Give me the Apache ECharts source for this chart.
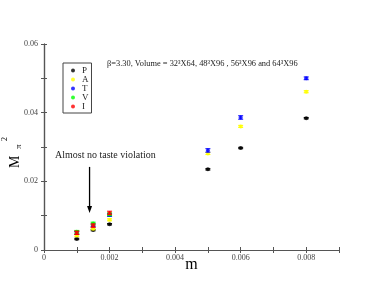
<!DOCTYPE html>
<html><head><meta charset="utf-8">
<script src="https://cdn.jsdelivr.net/npm/echarts@6/dist/echarts.min.js"></script>
<style>html,body{margin:0;padding:0;background:#fff}#c{width:382px;height:295px}</style>
</head><body><div id="c"></div>
<script>
var seriesNames = ['P','A','T','V','I'];
var seriesColors = ['#000000','#ffff00','#0000ff','#00ff00','#ff0000'];
var massP = [0.001,0.0015,0.002,0.005,0.006,0.008];
var valP = [0.0032,0.0058,0.0075,0.0235,0.0297,0.0384];
var errP = [0.0002,0.0002,0.0002,0.0002,0.0002,0.0002];
var massA = [0.001,0.0015,0.002,0.005,0.006,0.008];
var valA = [0.0042,0.0062,0.0088,0.0281,0.0360,0.0461];
var errA = [0.0003,0.0003,0.0003,0.0003,0.0003,0.0003];
var massT = [0.001,0.0015,0.002,0.005,0.006,0.008];
var valT = [0.0050,0.0072,0.0102,0.0290,0.0386,0.0500];
var errT = [0.0004,0.0004,0.0004,0.0005,0.0005,0.0004];
var massV = [0.001,0.0015,0.002];
var valV = [0.0053,0.0077,0.0104];
var errV = [0.0004,0.0004,0.0004];
var massI = [0.001,0.0015,0.002];
var valI = [0.0050,0.0071,0.0108];
var errI = [0.0005,0.0005,0.0005];
var xTicks = [0,0.002,0.004,0.006,0.008];
var yTicks = [0,0.02,0.04,0.06];
var arrowFrom = [0.00139,0.0242];
var arrowTo = [0.00139,0.0108];

var allM = [massP,massA,massT,massV,massI];
var allV = [valP,valA,valT,valV,valI];
var allE = [errP,errA,errT,errV,errI];
var serif = 'Liberation Serif, DejaVu Serif, serif';

var series = [];
for (var i=0;i<5;i++){
  (function(i){
    var pts = allM[i].map(function(m,k){return [m, allV[i][k]];});
    var eb = allM[i].map(function(m,k){return [m, allV[i][k]-allE[i][k], allV[i][k]+allE[i][k]];});
    series.push({
      type:'custom', name: seriesNames[i]+'_err', silent:true, z:2+i*2,
      data: eb,
      renderItem: function(params, api){
        var x = api.value(0);
        var lo = api.coord([x, api.value(1)]);
        var hi = api.coord([x, api.value(2)]);
        var c = seriesColors[i];
        var w = 2.5;
        return {type:'group', children:[
          {type:'line', shape:{x1:lo[0],y1:lo[1],x2:hi[0],y2:hi[1]}, style:{stroke:c,lineWidth:1}},
          {type:'line', shape:{x1:lo[0]-w,y1:lo[1],x2:lo[0]+w,y2:lo[1]}, style:{stroke:c,lineWidth:1}},
          {type:'line', shape:{x1:hi[0]-w,y1:hi[1],x2:hi[0]+w,y2:hi[1]}, style:{stroke:c,lineWidth:1}}
        ]};
      }
    });
    series.push({
      type:'scatter', name: seriesNames[i], z:3+i*2, symbol:'circle', symbolSize:4,
      itemStyle:{color:seriesColors[i]}, data: pts
    });
  })(i);
}
series.push({
  type:'custom', silent:true, z:20,
  data:[[arrowFrom[0],arrowFrom[1],arrowTo[0],arrowTo[1]]],
  renderItem:function(params, api){
    var a = api.coord([api.value(0), api.value(1)]);
    var b = api.coord([api.value(2), api.value(3)]);
    var h = 7, w = 2.5;
    return {type:'group', children:[
      {type:'line', shape:{x1:a[0],y1:a[1],x2:b[0],y2:b[1]-h+1}, style:{stroke:'#000',lineWidth:1.3}},
      {type:'polygon', shape:{points:[[b[0]-w,b[1]-h],[b[0]+w,b[1]-h],[b[0],b[1]]]}, style:{fill:'#000'}}
    ]};
  }
});

var chart = echarts.init(document.getElementById('c'));
function ax(extra){
  return Object.assign({
    type:'value',
    axisLine:{lineStyle:{color:'#555',width:1.2}},
    axisTick:{inside:true,length:3,lineStyle:{color:'#555'}},
    splitLine:{show:false}
  }, extra);
}
chart.setOption({
  animation:false,
  backgroundColor:'#fff',
  title:{text:'β=3.30, Volume = 32³X64, 48³X96 , 56³X96 and 64³X96', left:107, top:60, padding:0,
    textStyle:{fontFamily:serif,fontSize:8.4,fontWeight:'normal',color:'#222'}},
  legend:{data:seriesNames, orient:'vertical', left:63, top:63, itemWidth:4, itemHeight:4, itemGap:0,
    icon:'circle', padding:[3,3,2,8], borderColor:'#444', borderWidth:1,
    textStyle:{fontFamily:serif,fontSize:9,lineHeight:8.3,color:'#222',padding:[0,0,0,2]}},
  grid:{left:44,right:43,top:44,bottom:45},
  xAxis:[
    ax({min:0,max:0.009,interval:0.001,position:'bottom',
      name:'m',nameLocation:'middle',nameGap:7,nameMoveOverlap:false,
      nameTextStyle:{fontFamily:serif,fontSize:16,color:'#000'},
      axisLabel:{fontFamily:serif,fontSize:8,color:'#444',margin:4,
        formatter:function(v){var r=Math.round(v*10000)/10000; if(xTicks.indexOf(r)<0) return ''; return r===0?'0':r.toFixed(3);}}}),
    ax({min:0,max:0.009,interval:0.001,position:'top',axisLabel:{show:false}})
  ],
  yAxis:[
    ax({min:0,max:0.06,interval:0.01,position:'left',
      axisLabel:{fontFamily:serif,fontSize:8,color:'#444',margin:6,
        formatter:function(v){var r=Math.round(v*1000)/1000; if(yTicks.indexOf(r)<0) return ''; return r===0?'0':r.toFixed(2);}}}),
    ax({min:0,max:0.06,interval:0.01,position:'right',axisLabel:{show:false}})
  ],
  graphic:[
    {type:'text', left:55, top:150, style:{text:'Almost no taste violation', font:'10px '+serif, fill:'#222'}},
    {type:'text', x:8, y:168, rotation:Math.PI/2, style:{text:'M', font:'14px '+serif, fill:'#000'}},
    {type:'text', x:14, y:149, rotation:Math.PI/2, style:{text:'π', font:'9px '+serif, fill:'#000'}},
    {type:'text', x:1, y:141, rotation:Math.PI/2, style:{text:'2', font:'8px '+serif, fill:'#000'}}
  ],
  series: series
});
</script></body></html>
